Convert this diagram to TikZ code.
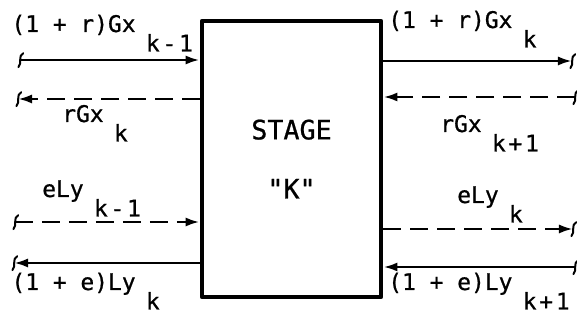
\documentclass[tikz,border=0pt]{standalone}
\usepackage{fontspec}
\usepackage{tikz}
\usetikzlibrary{arrows.meta,calc}
\newfontfamily\lettering{DejaVu Sans Mono}
\newcommand{\lsub}[1]{\hspace{0.45em}\raisebox{-0.85em}{\addfontfeature{LetterSpace=12}#1}}

\begin{document}
\begin{tikzpicture}[>={Latex[length=10pt,width=6.5pt]},line join=round,
  wall/.style={draw,line width=3.4pt,minimum width=4.475cm,minimum height=6.9cm,inner sep=0pt},
  flow/.style={line width=1.9pt},
  dflow/.style={line width=1.9pt,dash pattern=on 12.8pt off 6.4pt},
  lbl/.style={anchor=base west,inner sep=0pt,font=\lettering\addfontfeature{FakeBold=0.8}\fontsize{16.3}{18}\selectfont},
  curl/.pic={\draw[line width=1.4pt,line cap=round] (-0.04,-0.18) .. controls (0.06,-0.08) and (-0.06,0.1) .. (0.08,0.17);}]
  \useasboundingbox (0,0) rectangle (14.425,8);
  % the stage
  \node[wall,font=\lettering\addfontfeature{FakeBold=0.8}\fontsize{19}{42}\selectfont,align=center] (stage) at (7.288,4.025) {STAGE\\"K"};
  % free ends of the streams
  \coordinate (A1) at (0.500,6.500);
  \coordinate (A2) at (0.450,5.525);
  \coordinate (A3) at (0.375,2.450);
  \coordinate (A4) at (0.350,1.425);
  \coordinate (B1) at (14.300,6.475);
  \coordinate (B2) at (14.375,5.575);
  \coordinate (B3) at (14.325,2.275);
  \coordinate (B4) at (14.375,1.325);
  \draw[flow,->] (A1) -- (A1 -| stage.west);
  \draw[dflow,->] (A2 -| stage.west) -- (A2);
  \draw[dflow,->] (A3) -- (A3 -| stage.west);
  \draw[flow,->] (A4 -| stage.west) -- (A4);
  \draw[flow,->] (B1 -| stage.east) -- (B1);
  \draw[dflow,->] (B2) -- (B2 -| stage.east);
  \draw[dflow,->] (B3 -| stage.east) -- (B3);
  \draw[flow,->] (B4) -- (B4 -| stage.east);
  \pic at (A1) {curl};
  \pic at (A2) {curl};
  \pic at (A3) {curl};
  \pic at (A4) {curl};
  \pic at (B1) {curl};
  \pic at (B2) {curl};
  \pic at (B3) {curl};
  \pic at (B4) {curl};
  % labels
  \node[lbl] (gin) at (0.280,7.200) {(1 + r)Gx\lsub{k-1}};
  \node[lbl] (rgout) at (1.550,4.950) {rGx\lsub{k}};
  \node[lbl] (gout) at (9.700,7.300) {(1 + r)Gx\lsub{k}};
  \node[lbl] (rgin) at (11.000,4.700) {rGx\lsub{k+1}};
  \node[lbl] (ein) at (1.050,3.075) {eLy\lsub{k-1}};
  \node[lbl] (lout) at (0.280,0.750) {(1 + e)Ly\lsub{k}};
  \node[lbl] (eout) at (11.425,2.925) {eLy\lsub{k}};
  \node[lbl] (lin) at (9.700,0.750) {(1 + e)Ly\lsub{k+1}};
\end{tikzpicture}
\end{document}
